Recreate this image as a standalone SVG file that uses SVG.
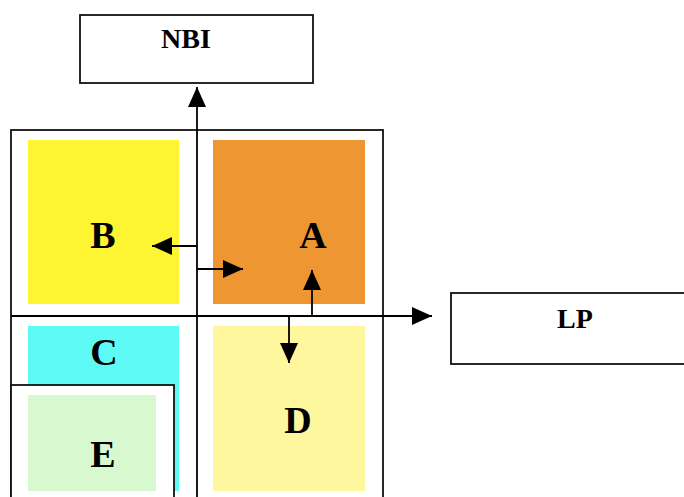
<svg xmlns="http://www.w3.org/2000/svg" width="684" height="497" viewBox="0 0 684 497">
<style>
.box{fill:#fff;stroke:#111;stroke-width:1.8}
.ln{fill:none;stroke:#000;stroke-width:1.8}
.t{font-family:"Liberation Serif","Times New Roman",serif;font-weight:bold;fill:#000;text-anchor:middle}
.big{font-size:38px}
.sm{font-size:28px}
</style>
<defs>
<marker id="ah" viewBox="0 0 10 10" refX="10" refY="5" markerWidth="10" markerHeight="10" markerUnits="userSpaceOnUse" orient="auto">
<path d="M0,0 L10,5 L0,10 z" fill="#000"/>
</marker>
<marker id="ahL" viewBox="0 0 20 18" refX="20" refY="9" markerWidth="20" markerHeight="18" markerUnits="userSpaceOnUse" orient="auto">
<path d="M0,0 L20,9 L0,18 z" fill="#000"/>
</marker>
</defs>
<g id="outer"><rect class="box" x="11" y="130" width="372" height="380"/></g>
<g id="NBI"><rect class="box" x="80" y="15" width="233" height="68"/><text class="t sm" x="186" y="48">NBI</text></g>
<g id="LP"><rect class="box" x="451" y="293" width="245" height="71"/><text class="t sm" x="575" y="328">LP</text></g>
<g id="B"><rect x="28" y="140" width="151" height="164" fill="#FDF432"/><text class="t big" x="103" y="248">B</text></g>
<g id="A"><rect x="213" y="140" width="152" height="164" fill="#EE9632"/><text class="t big" x="313" y="248">A</text></g>
<g id="C"><rect x="28" y="326" width="151" height="165" fill="#5EFBF6"/><text class="t big" x="104" y="365">C</text></g>
<g id="D"><rect x="213" y="326" width="152" height="165" fill="#FEF79D"/><text class="t big" x="298" y="433">D</text></g>
<g id="E"><rect class="box" x="11" y="385" width="163" height="130"/><rect x="28" y="395" width="128" height="96" fill="#D8F8D0"/><text class="t big" x="103" y="467">E</text></g>
<g id="connectors">
<line class="ln" x1="197" y1="497" x2="197" y2="87" marker-end="url(#ahL)"/>
<line class="ln" x1="11" y1="316" x2="432" y2="316" marker-end="url(#ahL)"/>
<line class="ln" x1="197" y1="246" x2="152" y2="246" marker-end="url(#ahL)"/>
<line class="ln" x1="197" y1="269" x2="243" y2="269" marker-end="url(#ahL)"/>
<line class="ln" x1="312" y1="316" x2="312" y2="270" marker-end="url(#ahL)"/>
<line class="ln" x1="289" y1="316" x2="289" y2="363" marker-end="url(#ahL)"/>
</g>
</svg>
